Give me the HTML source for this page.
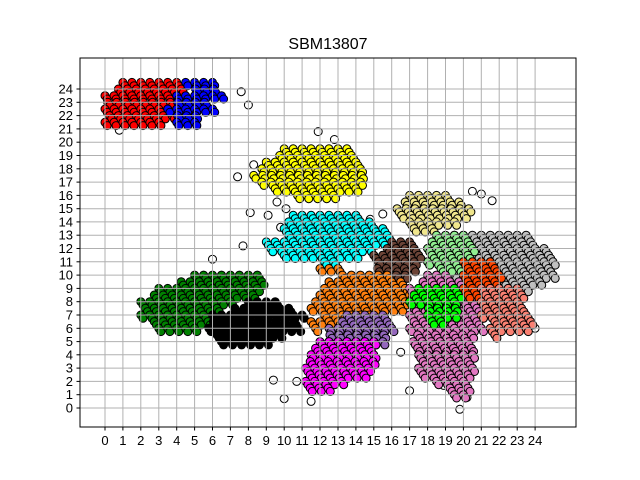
<!DOCTYPE html>
<html><head><meta charset="utf-8"><style>
body{margin:0;background:#fff;}
svg{display:block;font-family:"Liberation Sans","DejaVu Sans",sans-serif;}
</style></head><body>
<svg id="chart" width="640" height="480" viewBox="0 0 640 480" xmlns="http://www.w3.org/2000/svg">
<rect width="640" height="480" fill="#fff"/>
<text x="328" y="49" text-anchor="middle" font-size="16">SBM13807</text>
<g id="pts"></g>
<g id="grid"></g>
<rect x="80" y="58" width="496" height="369" fill="none" stroke="#000" stroke-width="1"/>
<g id="xt"></g>
<g id="yt"></g>
</svg>
<script>
const xTicks=[0,1,2,3,4,5,6,7,8,9,10,11,12,13,14,15,16,17,18,19,20,21,22,23,24];
const yTicks=[0,1,2,3,4,5,6,7,8,9,10,11,12,13,14,15,16,17,18,19,20,21,22,23,24];
// cluster rows: [y, xStart, xEnd]
const clusterNames=["red","blue","yellow","cyan","khaki","green","black","silver","lightgreen","brown","orange","purple","magenta","pink","lime","orangered","salmon"];
const clusterColors=["#ff0000","#0000ff","#ffff00","#00ffff","#f0e68c","#008000","#000000","#c0c0c0","#90ee90","#6b4336","#ff7f0e","#9467bd","#ff00ff","#e377c2","#00ff00","#ff4500","#fa8072"];
const redRows=[[24.5,1,4],[24,0.5,4.3],[23.5,0,4],[23,-0.1,4.2],[22.5,0,4],[22,0,4],[21.5,0,3]];
const blueRows=[[24.5,4.5,6.2],[24,4.8,6.5],[23.5,4,6.6],[23,3.8,6],[22.5,3.5,6],[22,3.8,5.5],[21.5,4,5]];
const yellowRows=[[19.5,10,13.5],[19,9.5,14],[18.5,9,14.2],[18,8.5,14.5],[17.5,8.3,14.5],[17,8.5,14.3],[16.5,9.5,14],[16,10.5,13]];
const cyanRows=[[14.5,10.5,14],[14,10,15],[13.5,10,15.5],[13,10,15.8],[12.5,9,15.8],[12,9,15],[11.5,10,14],[11,12,13]];
const khakiRows=[[16,17,19],[15.5,16.5,20],[15,16.3,20.5],[14.5,16.3,20.5],[14,17,19.5],[13.5,17,18.5]];
const greenRows=[[10,5,8.5],[9.5,4,8.8],[9,3,8.8],[8.5,2.5,8.5],[8,2,7],[7.5,2,6.5],[7,2,6.5],[6.5,2.5,6],[6,3,5]];
const blackRows=[[8,8,9.5],[7.5,7,10.5],[7,6,11],[6.5,5.8,11],[6,5.8,11],[5.5,6,10],[5,6.5,9]];
const silverRows=[[13,19.5,23.5],[12.5,19,24],[12,18,24.5],[11.5,18,24.8],[11,18,25],[10.5,19,25],[10,19.5,25],[9.5,21,24.5],[9,22,23.5]];
const lightgreenRows=[[13,18.5,20],[12.5,18,20.5],[12,18,20.5],[11.5,18,20.5],[11,18,20],[10.5,18.5,20]];
const brownRows=[[12.5,16,17],[12,15.5,17.5],[11.5,15,17.8],[11,15,17.5],[10.5,15.2,17.5],[10,16,17]];
const orangeRows=[[10.5,12,13],[10,13,16],[9.5,12.5,16.5],[9,12,17],[8.5,12,17.5],[8,11.5,17],[7.5,11.5,16.5],[7,12,15],[6.5,11.5,13],[6,11.5,12]];
const purpleRows=[[7,13.5,15.5],[6.5,13,16],[6,12.5,16],[5.5,12.3,16],[5,12.5,15.5]];
const magentaRows=[[5,12,15],[4.5,11.5,15],[4,11.5,15],[3.5,11.2,15],[3,11.2,14.8],[2.5,11.2,14.5],[2,11.2,13.5],[1.5,11.2,12.5]];
const pinkRows=[[10,18,19],[9.5,17.5,20.5],[9,17,20.5],[8.5,17,20.5],[8,17,21],[7.5,17,21],[7,17,21],[6.5,17,21],[6,17,21],[5.5,17.2,20.8],[5,17.2,20.5],[4.5,17.2,20.5],[4,17.5,20.5],[3.5,17.5,20.5],[3,17.5,20.5],[2.5,17.5,20.3],[2,18.5,20.3],[1.5,19,20.3],[1,19.5,20]];
const limeRows=[[9,17.5,19.5],[8.5,17,19.8],[8,17,19.8],[7.5,17.8,19.8],[7,18,19.5],[6.5,18,19]];
const orangeredRows=[[11,20,21.5],[10.5,20,22],[10,20,22],[9.5,20,22],[9,20,21.8],[8.5,20,21.5]];
const salmonRows=[[9,21,23],[8.5,21,23.5],[8,21,23],[7.5,21,23.5],[7,21,23.8],[6.5,21.5,24],[6,21.5,23.5],[5.5,21.5,22]];
const clusterRows=[redRows,blueRows,yellowRows,cyanRows,khakiRows,greenRows,blackRows,silverRows,lightgreenRows,brownRows,orangeRows,purpleRows,magentaRows,pinkRows,limeRows,orangeredRows,salmonRows];
const outlierX=[0.8,7.6,8,11.9,12.8,8.3,9.6,10.1,8.1,9.1,9.8,7.4,6,14.8,15.5,16.7,20.5,21,21.6,10.7,9.4,10,11.5,16.5,19.8,17,24,20.2,18.9,18.2,13.6,4.8,7.7];
const outlierY=[20.9,23.8,22.8,20.8,20.2,18.3,15.5,15,14.7,14.5,13.6,17.4,11.2,14.2,14.6,10.6,16.3,16.1,15.6,2,2.1,0.7,0.5,4.2,-0.1,1.3,6,0.8,1.7,5.2,18.8,9.1,12.2];

const X=v=>105+v*17.92, Y=v=>408-v*13.29;
const NS="http://www.w3.org/2000/svg";
const pts=document.getElementById('pts');
function dot(x,y,fill,name){
  const c=document.createElementNS(NS,'circle');
  c.setAttribute('cx',X(x).toFixed(1));c.setAttribute('cy',Y(y).toFixed(1));
  c.setAttribute('r',4);c.setAttribute('fill',fill);c.setAttribute('stroke','#000');c.setAttribute('stroke-width',1);
  
  
  pts.appendChild(c);
}
outlierX.forEach((x,i)=>dot(x,outlierY[i],'#fff','outlier-point'));
clusterRows.forEach((rows,ci)=>{
  rows.forEach((r,ri)=>{
    const off=(ri%2)*0.25;
    for(let x=r[1]+off;x<=r[2]+1e-6;x+=0.5){
      dot(x,r[0],clusterColors[ci],clusterNames[ci]+'-point');
      dot(x+0.12,r[0]-0.25,clusterColors[ci],clusterNames[ci]+'-point');
    }
  });
});
const grid=document.getElementById('grid'),xt=document.getElementById('xt'),yt=document.getElementById('yt');
function line(g,x1,y1,x2,y2,col,name){
  const l=document.createElementNS(NS,'line');
  l.setAttribute('x1',x1);l.setAttribute('y1',y1);l.setAttribute('x2',x2);l.setAttribute('y2',y2);
  l.setAttribute('stroke',col);l.setAttribute('stroke-width',1);
  
  
  g.appendChild(l);
}
function text(g,x,y,s,anchor,name){
  const t=document.createElementNS(NS,'text');
  t.setAttribute('x',x);t.setAttribute('y',y);t.setAttribute('font-size',13);t.setAttribute('text-anchor',anchor);
  t.textContent=s;
  
  
  g.appendChild(t);
}
xTicks.forEach(v=>{const px=X(v).toFixed(1);line(grid,px,58,px,427,'#b0b0b0','x-grid-line');line(xt,px,427,px,430.5,'#000','x-tick');text(xt,px,445,String(v),'middle','x-tick-label');});
yTicks.forEach(v=>{const py=Y(v).toFixed(1);line(grid,80,py,576,py,'#b0b0b0','y-grid-line');line(yt,76.5,py,80,py,'#000','y-tick');text(yt,73,(+py+4.5).toFixed(1),String(v),'end','y-tick-label');});
</script>
</body></html>
